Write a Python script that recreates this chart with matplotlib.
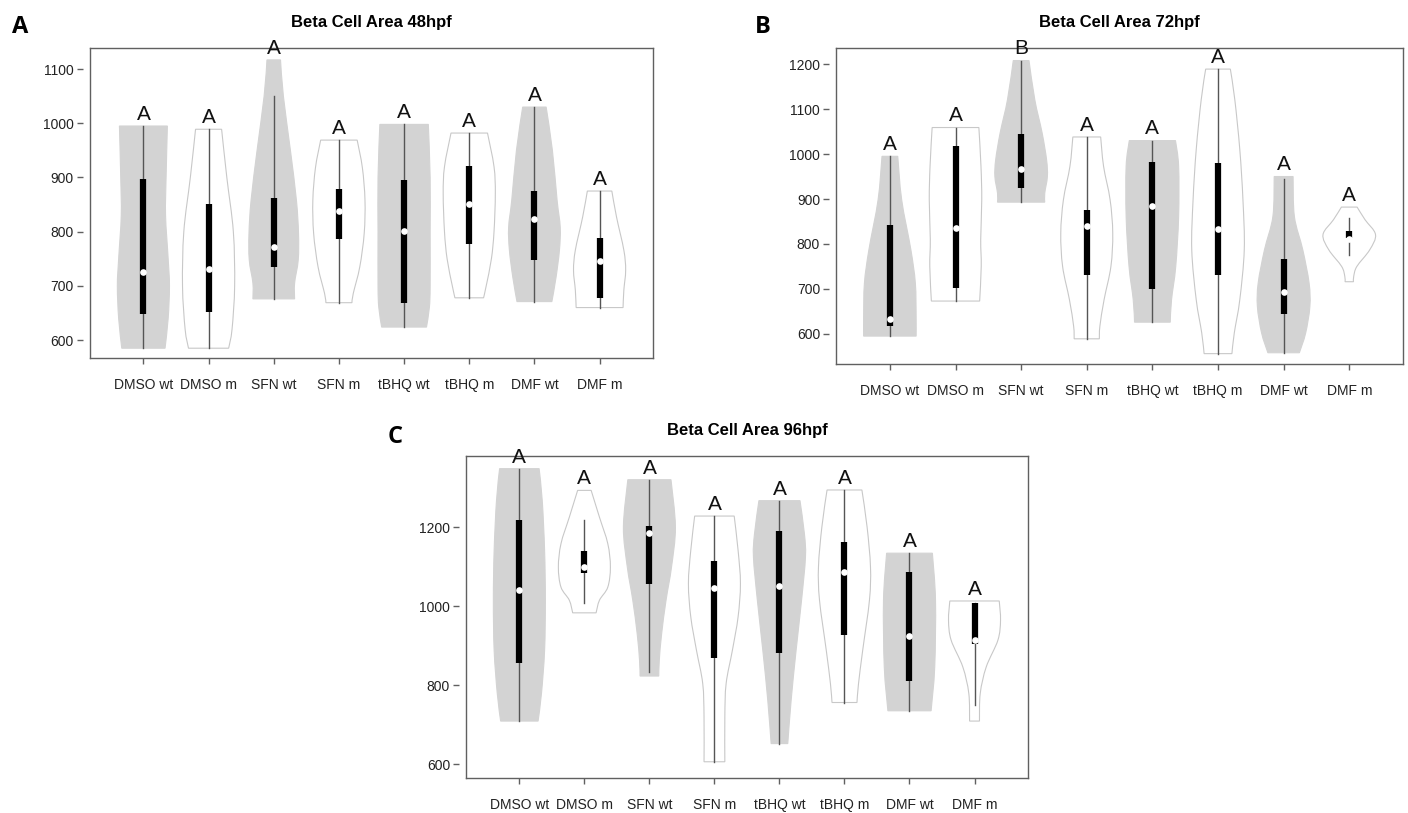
import matplotlib
matplotlib.use('Agg')
import matplotlib.pyplot as plt
import numpy as np
from matplotlib.path import Path
from matplotlib.patches import PathPatch

plt.rcParams['font.family'] = ['Liberation Sans', 'DejaVu Sans']

groups = ['DMSO wt', 'DMSO m', 'SFN wt', 'SFN m', 'tBHQ wt', 'tBHQ m', 'DMF wt', 'DMF m']

# 48hpf
a_min = [585, 585, 676, 669, 624, 678, 671, 660]
a_max = [995, 989, 1117, 969, 998, 982, 1030, 875]
a_wlo = [585, 585, 676, 669, 624, 678, 671, 660]
a_whi = [995, 989, 1051, 969, 998, 982, 1030, 875]
a_q1 = [648, 652, 735, 786, 669, 778, 748, 677]
a_med = [726, 731, 772, 838, 802, 852, 823, 746]
a_q3 = [897, 851, 862, 879, 895, 921, 875, 788]
a_sig = ['A', 'A', 'A', 'A', 'A', 'A', 'A', 'A']
# violin outline: (value, relative half width)
a_shape = [
    [(585, 0.83), (640, 0.95), (700, 1.0), (750, 0.95), (830, 0.85), (900, 0.87), (995, 0.92)],
    [(585, 0.77), (620, 0.9), (700, 1.0), (800, 0.95), (900, 0.7), (989, 0.5)],
    [(676, 0.8), (705, 0.8), (748, 0.94), (797, 0.95), (858, 0.87), (950, 0.64), (1050, 0.37), (1117, 0.26)],
    [(669, 0.5), (686, 0.55), (735, 0.8), (797, 0.97), (858, 1.0), (918, 0.9), (969, 0.7)],
    [(624, 0.86), (660, 0.97), (700, 1.0), (800, 1.0), (900, 1.0), (998, 0.93)],
    [(678, 0.55), (700, 0.65), (750, 0.85), (800, 0.95), (870, 1.0), (920, 0.95), (982, 0.7)],
    [(671, 0.67), (716, 0.83), (766, 0.96), (808, 0.99), (858, 0.87), (950, 0.69), (1030, 0.45)],
    [(660, 0.9), (692, 0.93), (729, 1.0), (766, 0.93), (827, 0.65), (875, 0.47)],
]

# 72hpf
b_min = [595, 673, 893, 589, 626, 556, 558, 716]
b_max = [995, 1059, 1208, 1038, 1030, 1189, 950, 882]
b_wlo = [595, 673, 893, 589, 626, 556, 558, 776]
b_whi = [995, 1059, 1208, 1038, 1030, 1189, 945, 858]
b_q1 = [618, 702, 924, 732, 700, 732, 644, 813]
b_med = [634, 836, 967, 839, 884, 833, 694, 811]
b_q3 = [842, 1017, 1045, 875, 982, 980, 767, 828]
b_sig = ['A', 'A', 'B', 'A', 'A', 'A', 'A', 'A']
b_shape = [
    [(595, 1.0), (639, 1.0), (713, 0.97), (787, 0.8), (898, 0.45), (995, 0.3)],
    [(673, 0.92), (750, 0.98), (810, 0.96), (898, 1.0), (973, 0.97), (1059, 0.89)],
    [(893, 0.9), (913, 0.9), (950, 1.0), (987, 0.97), (1047, 0.8), (1121, 0.52), (1208, 0.3)],
    [(589, 0.48), (617, 0.5), (676, 0.66), (750, 0.92), (824, 0.99), (898, 0.89), (973, 0.64), (1038, 0.53)],
    [(626, 0.68), (676, 0.73), (750, 0.89), (861, 1.0), (973, 1.0), (1030, 0.88)],
    [(556, 0.53), (602, 0.62), (676, 0.83), (787, 1.0), (898, 0.95), (1010, 0.83), (1121, 0.64), (1189, 0.47)],
    [(558, 0.6), (602, 0.84), (661, 1.0), (713, 0.97), (787, 0.73), (861, 0.41), (950, 0.36)],
    [(716, 0.16), (728, 0.17), (750, 0.29), (787, 0.78), (821, 1.0), (854, 0.6), (882, 0.3)],
]

# 96hpf
c_min = [709, 983, 823, 606, 652, 756, 735, 709]
c_max = [1348, 1293, 1320, 1228, 1267, 1294, 1134, 1013]
c_wlo = [709, 1008, 833, 606, 652, 756, 735, 749]
c_whi = [1348, 1217, 1320, 1228, 1267, 1294, 1134, 1008]
c_q1 = [857, 1084, 1055, 869, 881, 926, 810, 903]
c_med = [1040, 1100, 1186, 1046, 1052, 1086, 925, 913]
c_q3 = [1219, 1139, 1204, 1113, 1189, 1162, 1086, 1008]
c_sig = ['A', 'A', 'A', 'A', 'A', 'A', 'A', 'A']
c_shape = [
    [(709, 0.72), (779, 0.85), (888, 0.97), (1015, 1.0), (1141, 0.97), (1267, 0.88), (1348, 0.76)],
    [(983, 0.45), (1015, 0.58), (1048, 0.9), (1099, 1.0), (1158, 0.9), (1225, 0.58), (1293, 0.26)],
    [(823, 0.36), (863, 0.38), (930, 0.47), (1015, 0.64), (1099, 0.85), (1200, 1.0), (1320, 0.83)],
    [(606, 0.4), (720, 0.4), (804, 0.45), (888, 0.69), (973, 0.91), (1057, 1.0), (1141, 0.91), (1228, 0.76)],
    [(652, 0.32), (762, 0.45), (888, 0.64), (1015, 0.85), (1124, 1.0), (1183, 0.96), (1267, 0.79)],
    [(756, 0.48), (804, 0.54), (888, 0.7), (1015, 0.96), (1099, 1.0), (1200, 0.87), (1294, 0.67)],
    [(735, 0.83), (846, 0.97), (1015, 1.0), (1134, 0.88)],
    [(709, 0.19), (779, 0.22), (846, 0.45), (914, 0.9), (964, 1.0), (1013, 0.95)],
]

GREY = '#d3d3d3'
FRAME = '#606060'


def smooth_side(pts):
    # bezier path through the read points (catmull-rom handles)
    verts, codes = [], []
    n = len(pts)
    for k in range(n - 1):
        p0 = pts[max(k - 1, 0)]
        p1, p2 = pts[k], pts[k + 1]
        p3 = pts[min(k + 2, n - 1)]
        c1 = p1 + (p2 - p0) / 6.0
        c2 = p2 - (p3 - p1) / 6.0
        verts += [tuple(c1), tuple(c2), tuple(p2)]
        codes += [Path.CURVE4] * 3
    return verts, codes


def violin_outline(x, shp):
    vals = np.array([p[0] for p in shp], dtype=float)
    hw = 0.4 * np.array([p[1] for p in shp])
    right = np.column_stack([x + hw, vals])
    left = np.column_stack([x - hw, vals])[::-1]
    verts = [tuple(right[0])]
    codes = [Path.MOVETO]
    v, c = smooth_side(right)
    verts += v
    codes += c
    verts.append(tuple(left[0]))
    codes.append(Path.LINETO)
    v, c = smooth_side(left)
    verts += v
    codes += c
    verts.append(tuple(right[0]))
    codes.append(Path.CLOSEPOLY)
    return Path(verts, codes), vals.max()


def violin_panel(ax, title, shapes, wlo, whi, q1, med, q3, sig, ylim, yticks):
    for i, shp in enumerate(shapes):
        x = i + 1
        path, top = violin_outline(x, shp)
        if i % 2 == 0:
            patch = PathPatch(path, facecolor=GREY, edgecolor=GREY, lw=0.8, zorder=2)
        else:
            patch = PathPatch(path, facecolor='white', edgecolor='#c8c8c8', lw=0.8, zorder=2)
        ax.add_patch(patch)
        ax.plot([x, x], [wlo[i], whi[i]], color='#555555', lw=1.0, zorder=3)
        ax.plot([x, x], [q1[i], q3[i]], color='black', lw=4.5, solid_capstyle='butt', zorder=4)
        ax.plot(x, med[i], 'o', color='white', ms=4.8, mec='none', zorder=5)
        ax.annotate(sig[i], (x, top), xytext=(0, 1.5), textcoords='offset points',
                    ha='center', va='bottom', fontsize=15, color='#111111', zorder=6)

    ax.set_xlim(0.18, 8.82)
    ax.set_ylim(*ylim)
    ax.set_xticks(range(1, 9))
    ax.set_xticklabels(groups)
    ax.set_yticks(yticks)
    ax.tick_params(axis='both', direction='out', length=4.5, width=1, color=FRAME,
                   labelsize=10, labelcolor='#222222')
    ax.tick_params(axis='x', pad=10)
    ax.tick_params(axis='y', pad=2)
    for s in ax.spines.values():
        s.set_color(FRAME)
        s.set_linewidth(1)
    # y ticks sit a little away from the box, as in the R output
    ax.spines['left'].set_position(('outward', 5))
    ax.spines['left'].set_visible(False)
    ax.plot([0, 0], [0, 1], transform=ax.transAxes, color=FRAME, lw=1, clip_on=False, zorder=7)
    ax.set_title(title, fontsize=12, fontweight='bold', pad=15)


fig = plt.figure(figsize=(14.08, 8.13), dpi=100)
ax_a = fig.add_axes([0.0639, 0.5597, 0.3999, 0.3813])
ax_b = fig.add_axes([0.5938, 0.5523, 0.4027, 0.3887])
ax_c = fig.add_axes([0.3310, 0.0431, 0.3990, 0.3960])

violin_panel(ax_a, 'Beta Cell Area 48hpf', a_shape, a_wlo, a_whi, a_q1, a_med, a_q3, a_sig,
             (567, 1139), range(600, 1101, 100))
violin_panel(ax_b, 'Beta Cell Area 72hpf', b_shape, b_wlo, b_whi, b_q1, b_med, b_q3, b_sig,
             (533, 1236), range(600, 1201, 100))
violin_panel(ax_c, 'Beta Cell Area 96hpf', c_shape, c_wlo, c_whi, c_q1, c_med, c_q3, c_sig,
             (565, 1380), range(600, 1201, 200))

for lab, x, y in [('A', 0.0085, 0.959), ('B', 0.536, 0.959), ('C', 0.275, 0.455)]:
    fig.text(x, y, lab, fontsize=17, fontweight='bold', family=['Open Sans', 'DejaVu Sans'],
             ha='left', va='baseline')

fig.savefig('out.png', dpi=100)
